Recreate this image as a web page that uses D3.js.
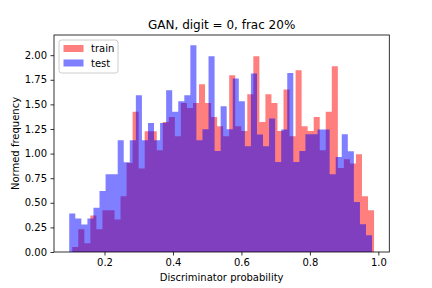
<!DOCTYPE html>
<html>
<head>
<meta charset="utf-8">
<script src="https://cdn.jsdelivr.net/npm/d3@7"></script>
<style>
  body { margin: 0; background: #fff; }
  svg { display: block; font-family: "DejaVu Sans", sans-serif; }
</style>
</head>
<body>
<svg id="chart" width="432" height="288"></svg>
<script>
// ---- data ----
const title = "GAN, digit = 0, frac 20%";
const xLabel = "Discriminator probability";
const yLabel = "Normed frequency";
const seriesNames = ["train", "test"];
const seriesColors = ["#ff0000", "#0000ff"];
// histogram ranges [low edge, high edge] for each series (50 bins each)
const trainRange = [0.1057, 0.9875];
const testRange = [0.0969, 0.9816];
// normed bar heights, one per bin
const trainValues = [0.05, 0.23, 0.09, 0.37, 0.23, 0.425, 0.425, 0.33, 0.566, 0.905,
  1.424, 0.848, 1.227, 1.227, 1.034, 1.322, 1.373, 1.176, 1.515, 1.464,
  1.515, 1.705, 1.515, 1.373, 1.278, 1.176, 1.797, 1.278, 1.23, 1.603,
  1.99, 1.322, 1.603, 1.515, 1.23, 1.651, 1.176, 1.848, 1.278, 1.23,
  1.373, 1.034, 1.424, 1.888, 0.854, 0.943, 0.899, 0.993, 0.566, 0.424];
const testValues = [0.39, 0.34, 0.28, 0.34, 0.45, 0.62, 0.79, 0.79, 1.136, 0.912,
  1.136, 1.593, 1.136, 1.31, 1.136, 1.31, 1.644, 1.424, 1.532, 1.593,
  2.10, 1.136, 1.248, 1.99, 1.027, 1.481, 1.248, 1.763, 1.532, 1.075,
  1.813, 1.194, 1.075, 1.356, 0.915, 1.244, 1.82, 0.915, 1.027, 1.197,
  1.197, 1.244, 1.244, 0.79, 0.966, 1.197, 1.024, 0.508, 0.282, 0.17];
const xTicks = [0.2, 0.4, 0.6, 0.8, 1.0];
const yTicks = [0, 0.25, 0.5, 0.75, 1.0, 1.25, 1.5, 1.75, 2.0];

// ---- layout ----
const plot = { left: 54, right: 389.3, top: 35, bottom: 252 };
const svg = d3.select("#chart");

function bins(range, values) {
  const w = (range[1] - range[0]) / values.length;
  return values.map((v, i) => ({ x0: range[0] + i * w, x1: range[0] + (i + 1) * w, v }));
}
const trainBins = bins(trainRange, trainValues);
const testBins = bins(testRange, testValues);

const lo = Math.min(trainRange[0], testRange[0]);
const hi = Math.max(trainRange[1], testRange[1]);
const pad = (hi - lo) * 0.05;
const x = d3.scaleLinear().domain([lo - pad, hi + pad]).range([plot.left, plot.right]);
const yMax = d3.max(trainValues.concat(testValues)) * 1.05;
const y = d3.scaleLinear().domain([0, yMax]).range([plot.bottom, plot.top]);

// bars: one seamless step outline per series
function histPath(bs) {
  const p = d3.path();
  p.moveTo(x(bs[0].x0), y(0));
  bs.forEach(d => { p.lineTo(x(d.x0), y(d.v)); p.lineTo(x(d.x1), y(d.v)); });
  p.lineTo(x(bs[bs.length - 1].x1), y(0));
  p.closePath();
  return p.toString();
}
[[trainBins, 0], [testBins, 1]].forEach(([bs, si]) => {
  svg.append("path").datum(bs)
    .attr("d", histPath)
    .attr("fill", seriesColors[si])
    .attr("fill-opacity", 0.5);
});

// axes
const xAxis = d3.axisBottom(x).tickValues(xTicks).tickFormat(d3.format(".1f")).tickSize(3.5).tickPadding(3.5);
const yAxis = d3.axisLeft(y).tickValues(yTicks).tickFormat(d3.format(".2f")).tickSize(3.5).tickPadding(3.5);
const gx = svg.append("g").attr("transform", `translate(0,${plot.bottom})`).call(xAxis);
const gy = svg.append("g").attr("transform", `translate(${plot.left},0)`).call(yAxis);
[gx, gy].forEach(g => {
  g.select(".domain").remove();
  g.selectAll(".tick line").attr("stroke", "#000").attr("stroke-width", 0.8);
  g.selectAll(".tick text").attr("fill", "#000").attr("font-size", 10)
    .attr("font-family", "DejaVu Sans, sans-serif");
});

// frame
svg.append("rect").attr("x", plot.left).attr("y", plot.top)
  .attr("width", plot.right - plot.left).attr("height", plot.bottom - plot.top)
  .attr("fill", "none").attr("stroke", "#000").attr("stroke-width", 0.8);

// title & labels
svg.append("text").attr("x", (plot.left + plot.right) / 2).attr("y", 29)
  .attr("text-anchor", "middle").attr("font-size", 12).text(title);
svg.append("text").attr("x", (plot.left + plot.right) / 2).attr("y", 281)
  .attr("text-anchor", "middle").attr("font-size", 10).text(xLabel);
svg.append("text").attr("transform", `translate(18.5,${(plot.top + plot.bottom) / 2}) rotate(-90)`)
  .attr("text-anchor", "middle").attr("font-size", 10).text(yLabel);

// legend
const lg = svg.append("g").attr("transform", `translate(${plot.left + 5},${plot.top + 5})`);
lg.append("rect").attr("width", 59).attr("height", 33).attr("rx", 2.5)
  .attr("fill", "#fff").attr("fill-opacity", 0.8).attr("stroke", "#cccccc").attr("stroke-width", 1);
seriesNames.forEach((name, i) => {
  lg.append("rect").attr("x", 4.5).attr("y", 5 + i * 14.5).attr("width", 20).attr("height", 7)
    .attr("fill", seriesColors[i]).attr("fill-opacity", 0.5);
  lg.append("text").attr("x", 32).attr("y", 12.3 + i * 14.5).attr("font-size", 10).text(name);
});
</script>
</body>
</html>
